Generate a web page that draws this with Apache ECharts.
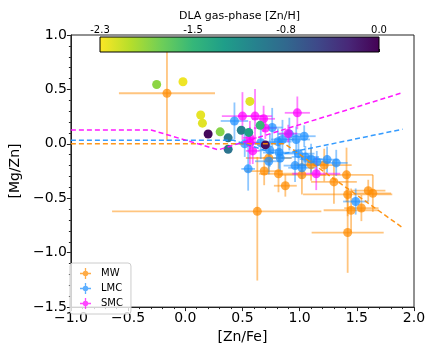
<!DOCTYPE html>
<html>
<head>
<meta charset="utf-8">
<script src="https://cdn.jsdelivr.net/npm/echarts@6/dist/echarts.min.js"></script>
<style>
  html, body { margin: 0; padding: 0; background: #fff; }
  #chart { width: 436px; height: 349px; }
</style>
</head>
<body>
<div id="chart"></div>
<script>
// values; errors are symmetric unless given as [lo, hi]
const mwX = [-0.16, 0.63, 0.69, 0.73, 0.815, 0.875, 1.02, 1.10, 1.215, 1.30, 1.41, 1.42, 1.45, 1.54, 1.60, 1.64, 1.42];
const mwY = [0.465, -0.62, -0.25, -0.13, -0.275, -0.385, -0.285, -0.19, -0.195, -0.35, -0.285, -0.465, -0.61, -0.59, -0.43, -0.455, -0.815];
const mwXerr = [0.42, [1.27, 0.56], 0.165, 0.2, 0.17, 0.1, 0.21, 0.15, 0.24, 0.2, 0.23, 0.39, 0.24, 0.15, 0.15, 0.16, 0.315];
const mwYerr = [0.44, [0.636, 0.5], 0.13, 0.13, 0.17, 0.1, 0.18, 0.15, 0.15, 0.2, 0.25, 0.2, 0.2, 0.12, 0.1, 0.17, 0.37];

const lmcX = [0.43, 0.52, 0.55, 0.66, 0.74, 0.76, 0.81, 0.82, 0.83, 0.85, 0.91, 0.73, 0.97, 1.04, 0.99, 1.05, 1.10, 1.15, 1.24, 1.32, 0.96, 1.02, 1.49];
const lmcY = [0.21, 0.0, -0.23, 0.01, -0.06, 0.15, 0.02, -0.08, -0.13, 0.04, 0.09, -0.16, 0.04, 0.07, -0.09, -0.12, -0.14, -0.165, -0.145, -0.175, -0.20, -0.22, -0.53];
const lmcXerr = [0.12, 0.1, 0.06, 0.12, 0.1, 0.09, 0.12, 0.14, 0.1, 0.1, 0.1, 0.12, 0.12, 0.1, 0.14, 0.12, 0.1, 0.12, 0.1, 0.1, 0.1, 0.12, 0.11];
const lmcYerr = [0.17, 0.12, 0.2, 0.15, 0.15, 0.18, 0.12, 0.15, 0.12, 0.18, 0.15, 0.12, 0.12, 0.1, 0.12, 0.1, 0.14, 0.1, 0.12, 0.12, 0.15, 0.1, 0.12];

const smcX = [0.50, 0.61, 0.685, 0.70, 0.98, 0.90, 0.565, 0.565, 0.59, 1.145];
const smcY = [0.255, 0.255, 0.23, 0.145, 0.285, 0.095, 0.055, 0.01, -0.065, -0.275];
const smcXerr = [0.18, 0.15, 0.1, 0.1, 0.11, 0.08, 0.06, 0.08, 0.06, 0.21];
const smcYerr = [0.22, 0.25, 0.12, 0.1, 0.15, 0.08, 0.1, 0.2, 0.12, 0.15];

// DLA points, coloured by gas-phase [Zn/H]
const dlaX = [-0.25, -0.02, 0.135, 0.15, 0.20, 0.305, 0.375, 0.375, 0.49, 0.555, 0.565, 0.655, 0.70];
const dlaY = [0.545, 0.57, 0.265, 0.19, 0.09, 0.11, 0.055, -0.05, 0.125, 0.105, 0.39, 0.17, -0.01];
const dlaZnH = [-1.9, -2.25, -2.22, -2.2, -0.05, -1.88, -0.92, -0.88, -1.0, -1.3, -2.2, -1.55, -0.1];

// dashed model tracks
const mwLine = [[-1, 0.0], [0.87, 0.0], [1.9, -0.77]];
const lmcLine = [[-1, 0.033], [0.42, 0.033], [0.82, -0.1], [1.9, 0.134]];
const smcLine = [[-1, 0.128], [-0.3, 0.128], [0.29, -0.055], [1.9, 0.47]];

const cbarTicks = [-2.3, -2.3 * 2 / 3, -2.3 / 3, 0];

const viridis = ['#440154', '#482878', '#3e4989', '#31688e', '#26828e', '#1f9e89', '#35b779', '#6ece58', '#b5de2b', '#fde725'];
const viridisR = viridis.slice().reverse();

const FONT = 'DejaVu Sans';
const colors = { MW: '#ff8c00', LMC: '#1e90ff', SMC: '#ff00ff' };

function lohi(e) {
  return Array.isArray(e) ? e : [e, e];
}

function errData(xs, ys, xe, ye) {
  return xs.map((x, i) => {
    const a = lohi(xe[i]), b = lohi(ye[i]);
    return [x, ys[i], a[0], a[1], b[0], b[1]];
  });
}

function errSeries(name, xs, ys, xe, ye) {
  const c = colors[name];
  return {
    type: 'custom',
    name: name + ' err',
    data: errData(xs, ys, xe, ye),
    encode: { x: 0, y: 1 },
    clip: true,
    silent: true,
    renderItem: function (params, api) {
      const x = api.value(0), y = api.value(1);
      const l = api.coord([x - api.value(2), y]);
      const r = api.coord([x + api.value(3), y]);
      const b = api.coord([x, y - api.value(4)]);
      const t = api.coord([x, y + api.value(5)]);
      const st = { stroke: c, lineWidth: 1.8, opacity: 0.5 };
      return {
        type: 'group',
        children: [
          { type: 'line', shape: { x1: l[0], y1: l[1], x2: r[0], y2: r[1] }, style: st },
          { type: 'line', shape: { x1: b[0], y1: b[1], x2: t[0], y2: t[1] }, style: st }
        ]
      };
    }
  };
}

function ptSeries(name, xs, ys) {
  return {
    type: 'scatter',
    name: name,
    data: xs.map((x, i) => [x, ys[i]]),
    symbolSize: 9,
    itemStyle: { color: colors[name], opacity: 0.72 }
  };
}

function lineSeries(name, pts) {
  return {
    type: 'line',
    name: name + ' track',
    data: pts,
    symbol: 'none',
    silent: true,
    lineStyle: { color: colors[name], width: 1.5, type: [5, 3], opacity: 0.9 }
  };
}

const fmt = v => v.toFixed(1).replace('-', '\u2212');
// marker with its two error bars, like the matplotlib errorbar legend handle
const legendIcon = 'path://M-10,-1.2L10,-1.2L10,1.2L-10,1.2Z M-1.2,-10L1.2,-10L1.2,10L-1.2,10Z M5,0A5,5 0 1 1 -5,0A5,5 0 1 1 5,0Z';

const chart = echarts.init(document.getElementById('chart'), null, { renderer: 'canvas' });

const option = {
  animation: false,
  textStyle: { fontFamily: FONT },
  grid: [
    { left: 64.7, right: 22, top: 35, bottom: 35, show: true, borderColor: '#222', borderWidth: 1 },
    { left: 100, width: 279, top: 37, height: 15 }
  ],
  xAxis: [
    {
      type: 'value', min: -1, max: 2, interval: 0.5,
      name: '[Zn/Fe]', nameLocation: 'middle', nameGap: 20,
      nameTextStyle: { fontSize: 14, color: '#000', fontFamily: FONT },
      axisLine: { onZero: false, lineStyle: { color: '#222' } },
      axisTick: { length: 4, lineStyle: { color: '#222' } },
      minorTick: { show: true, splitNumber: 5, length: 2, lineStyle: { color: '#222' } },
      splitLine: { show: false },
      axisLabel: { fontSize: 14, color: '#000', margin: 4, formatter: fmt, fontFamily: FONT }
    },
    {
      type: 'value', gridIndex: 1, min: -2.3, max: 0, position: 'top',
      name: 'DLA gas-phase [Zn/H]', nameLocation: 'middle', nameGap: 15,
      nameTextStyle: { fontSize: 11, color: '#000', fontFamily: FONT },
      axisLine: { show: false },
      axisTick: { show: true, length: 3, customValues: cbarTicks, lineStyle: { color: '#222' } },
      splitLine: { show: false },
      axisLabel: { fontSize: 10, color: '#000', margin: 2, customValues: cbarTicks, formatter: v => v.toFixed(1), fontFamily: FONT }
    }
  ],
  yAxis: [
    {
      type: 'value', min: -1.5, max: 1.0, interval: 0.5,
      name: '[Mg/Zn]', nameLocation: 'middle', nameGap: 38,
      nameTextStyle: { fontSize: 14, color: '#000', fontFamily: FONT },
      axisLine: { onZero: false, lineStyle: { color: '#222' } },
      axisTick: { length: 4, lineStyle: { color: '#222' } },
      minorTick: { show: true, splitNumber: 5, length: 2, lineStyle: { color: '#222' } },
      splitLine: { show: false },
      axisLabel: { fontSize: 14, color: '#000', margin: 4, formatter: fmt, fontFamily: FONT }
    },
    { type: 'value', gridIndex: 1, min: 0, max: 1, show: false }
  ],
  visualMap: {
    show: false,
    type: 'continuous',
    seriesIndex: 9,
    dimension: 2,
    min: -2.3,
    max: 0,
    inRange: { color: viridisR }
  },
  legend: {
    data: ['MW', 'LMC', 'SMC'],
    orient: 'vertical',
    left: 70, top: 263,
    padding: [5, 8, 5, 10],
    itemGap: 4,
    itemWidth: 11, itemHeight: 11,
    icon: legendIcon,
    borderColor: '#ccc', borderWidth: 1, borderRadius: 3,
    backgroundColor: 'rgba(255,255,255,0.8)',
    textStyle: { fontSize: 10, color: '#000', fontFamily: FONT, padding: [0, 0, 0, 5] }
  },
  graphic: [
    {
      type: 'rect', z: 100,
      shape: { x: 100, y: 37, width: 279, height: 15 },
      style: {
        fill: new echarts.graphic.LinearGradient(0, 0, 1, 0,
          viridisR.map((c, i) => ({ offset: i / (viridisR.length - 1), color: c }))),
        stroke: '#000', lineWidth: 1
      }
    }
  ],
  series: [
    errSeries('MW', mwX, mwY, mwXerr, mwYerr),
    ptSeries('MW', mwX, mwY),
    errSeries('LMC', lmcX, lmcY, lmcXerr, lmcYerr),
    ptSeries('LMC', lmcX, lmcY),
    errSeries('SMC', smcX, smcY, smcXerr, smcYerr),
    ptSeries('SMC', smcX, smcY),
    lineSeries('MW', mwLine),
    lineSeries('LMC', lmcLine),
    lineSeries('SMC', smcLine),
    {
      type: 'scatter',
      name: 'DLA',
      data: dlaX.map((x, i) => [x, dlaY[i], dlaZnH[i]]),
      symbolSize: 9,
      itemStyle: { opacity: 1 }
    }
  ]
};

chart.setOption(option);
</script>
</body>
</html>
